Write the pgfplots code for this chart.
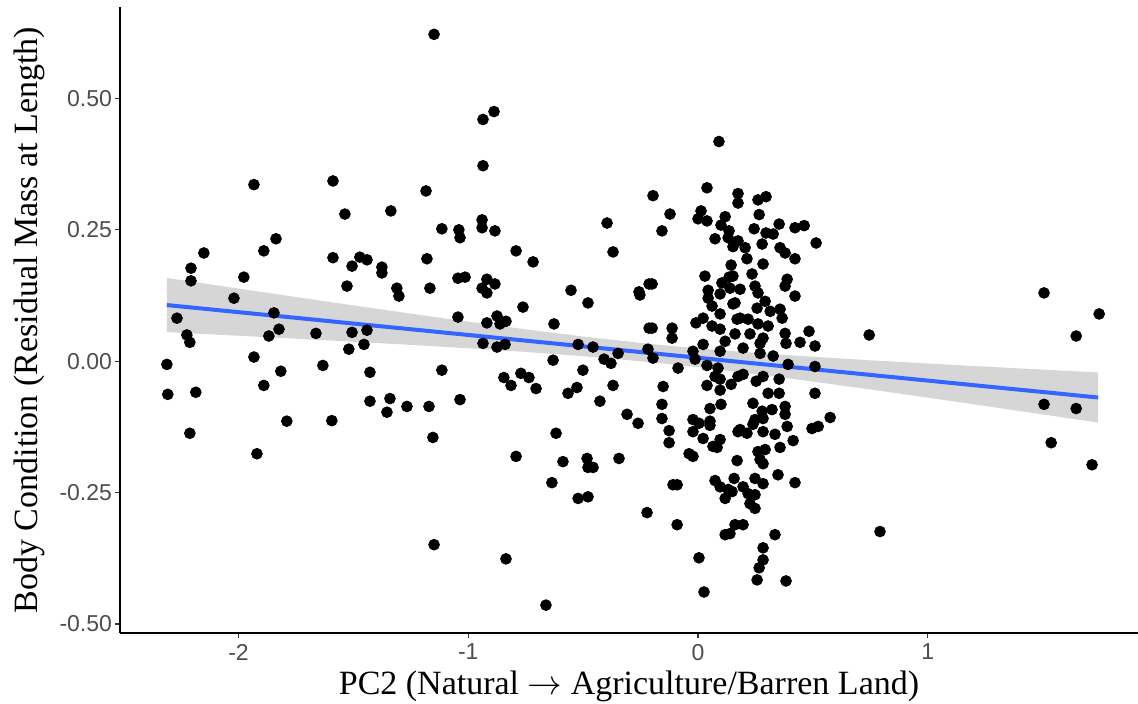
\documentclass[border=0pt]{standalone}
\usepackage{fontspec}
\setmainfont{Liberation Serif}
\newfontfamily\ticksans{Liberation Sans}
\usepackage{pgfplots}
\usepgfplotslibrary{fillbetween}
\pgfplotsset{compat=1.18}
\definecolor{tickgray}{RGB}{77,77,77}
\definecolor{tickline}{RGB}{51,51,51}
\definecolor{fitblue}{RGB}{51,102,255}
\definecolor{bandgray}{RGB}{153,153,153}

% PC2 vs body condition, one row per fish
\pgfplotstableread{
x y
-1.933 0.336
-1.589 0.343
-1.537 0.280
-1.337 0.286
-1.837 0.233
-1.890 0.210
-2.151 0.206
-2.207 0.177
-2.207 0.153
-1.977 0.160
-1.589 0.197
-1.472 0.198
-1.441 0.193
-1.506 0.181
-1.376 0.179
-1.376 0.168
-1.528 0.143
-1.311 0.139
-1.302 0.124
-2.020 0.120
-2.268 0.082
-1.846 0.092
-1.824 0.061
-1.868 0.048
-1.663 0.053
-1.506 0.055
-1.441 0.059
-2.225 0.050
-2.212 0.036
-1.454 0.032
-1.520 0.023
-1.933 0.008
-2.312 -0.006
-1.816 -0.019
-1.633 -0.008
-1.428 -0.021
-1.890 -0.046
-2.308 -0.063
-2.186 -0.059
-1.428 -0.076
-1.341 -0.071
-1.354 -0.097
-1.267 -0.086
-1.790 -0.114
-1.594 -0.113
-2.212 -0.137
-1.920 -0.176
-1.149 0.622
-0.888 0.475
-0.936 0.460
-0.936 0.372
-1.184 0.324
-1.115 0.252
-1.041 0.250
-1.036 0.235
-0.940 0.269
-0.940 0.254
-0.884 0.248
-0.396 0.263
-0.370 0.208
-0.792 0.210
-0.718 0.189
-1.180 0.195
-1.167 0.139
-1.045 0.158
-1.014 0.160
-0.919 0.156
-0.940 0.139
-0.919 0.130
-0.884 0.147
-0.553 0.135
-0.479 0.111
-0.257 0.132
-0.253 0.126
-0.213 0.147
-0.762 0.103
-1.045 0.084
-0.919 0.073
-0.875 0.086
-0.862 0.071
-0.836 0.076
-0.627 0.071
-0.936 0.034
-0.875 0.027
-0.840 0.032
-0.522 0.032
-0.457 0.027
-0.213 0.063
-0.218 0.023
-0.348 0.015
-0.631 0.002
-1.115 -0.017
-0.845 -0.031
-0.814 -0.046
-0.771 -0.023
-0.736 -0.031
-0.705 -0.052
-0.501 -0.017
-0.409 0.004
-0.379 -0.004
-0.527 -0.050
-0.566 -0.061
-0.370 -0.046
-0.427 -0.076
-1.171 -0.086
-1.036 -0.073
-0.309 -0.101
-0.261 -0.118
-1.154 -0.145
-0.618 -0.137
-0.792 -0.181
-0.588 -0.191
-0.483 -0.185
-0.479 -0.202
-0.457 -0.202
-0.344 -0.185
-0.636 -0.231
-0.522 -0.261
-0.479 -0.258
-0.222 -0.288
-1.149 -0.349
-0.836 -0.376
-0.662 -0.464
0.091 0.418
0.039 0.330
-0.196 0.315
-0.122 0.280
0.174 0.319
0.174 0.301
0.013 0.286
0.000 0.271
0.039 0.267
0.118 0.275
0.100 0.259
-0.157 0.248
0.135 0.248
0.131 0.235
0.074 0.233
0.152 0.218
0.174 0.229
0.144 0.183
0.030 0.162
0.135 0.160
-0.200 0.147
0.104 0.149
0.044 0.135
0.044 0.120
0.096 0.128
0.139 0.139
0.061 0.105
0.152 0.109
0.096 0.090
0.022 0.082
-0.009 0.073
0.061 0.067
0.096 0.061
0.170 0.080
-0.200 0.063
-0.113 0.063
-0.113 0.044
0.022 0.032
0.118 0.038
0.096 0.019
-0.196 0.006
-0.022 0.019
-0.013 0.004
0.039 -0.008
0.087 -0.013
-0.087 -0.013
-0.152 -0.048
0.039 -0.046
0.074 -0.029
0.096 -0.034
0.096 -0.055
0.144 -0.044
0.174 -0.029
-0.157 -0.082
0.052 -0.090
0.100 -0.082
-0.157 -0.109
-0.126 -0.132
-0.126 -0.155
-0.022 -0.111
0.004 -0.118
-0.022 -0.134
0.052 -0.114
0.052 -0.122
0.022 -0.147
0.096 -0.149
0.065 -0.162
0.083 -0.164
0.174 -0.134
-0.039 -0.176
-0.022 -0.181
0.170 -0.189
-0.109 -0.235
-0.091 -0.235
0.074 -0.227
0.096 -0.239
0.131 -0.244
0.118 -0.261
0.157 -0.223
-0.091 -0.311
0.161 -0.311
0.118 -0.330
0.139 -0.328
0.004 -0.374
0.026 -0.439
0.261 0.307
0.296 0.313
0.266 0.279
0.353 0.261
0.422 0.254
0.462 0.258
0.514 0.225
0.244 0.252
0.296 0.244
0.327 0.242
0.205 0.216
0.279 0.223
0.357 0.216
0.379 0.206
0.422 0.195
0.213 0.195
0.283 0.185
0.235 0.166
0.388 0.156
0.379 0.143
0.422 0.124
0.248 0.143
0.183 0.137
0.261 0.130
0.161 0.111
0.292 0.114
0.257 0.101
0.357 0.099
0.366 0.082
0.314 0.095
0.183 0.082
0.218 0.080
0.261 0.071
0.305 0.067
0.226 0.052
0.161 0.052
0.283 0.044
0.379 0.053
0.483 0.057
0.383 0.034
0.444 0.036
0.509 0.029
0.196 0.025
0.270 0.034
0.270 0.015
0.327 0.010
0.392 -0.006
0.509 -0.010
0.152 0.162
0.196 -0.025
0.253 -0.038
0.283 -0.029
0.353 -0.034
0.305 -0.061
0.353 -0.061
0.509 -0.061
0.239 -0.080
0.379 -0.086
0.379 -0.101
0.279 -0.095
0.322 -0.092
0.248 -0.111
0.283 -0.109
0.239 -0.120
0.183 -0.130
0.213 -0.137
0.283 -0.134
0.335 -0.139
0.388 -0.124
0.496 -0.128
0.523 -0.124
0.575 -0.107
0.414 -0.151
0.357 -0.164
0.261 -0.172
0.292 -0.168
0.270 -0.187
0.283 -0.195
0.348 -0.216
0.422 -0.231
0.248 -0.223
0.283 -0.233
0.196 -0.239
0.218 -0.252
0.248 -0.254
0.226 -0.271
0.248 -0.280
0.148 -0.248
0.196 -0.311
0.335 -0.330
0.283 -0.355
0.283 -0.378
0.266 -0.393
0.257 -0.416
0.383 -0.418
0.745 0.050
0.792 -0.324
1.506 0.130
1.746 0.090
1.646 0.048
1.506 -0.082
1.646 -0.090
1.537 -0.155
1.715 -0.197
}\fishdata

% fitted line with its 95% band
\pgfplotstableread{
x fit lo hi
-2.312 0.1069 0.0554 0.1585
-2.00 0.0934 0.0485 0.1383
-1.75 0.0826 0.0429 0.1222
-1.50 0.0717 0.0371 0.1063
-1.25 0.0609 0.0311 0.0906
-1.00 0.0500 0.0247 0.0753
-0.75 0.0392 0.0177 0.0606
-0.50 0.0283 0.0096 0.0470
-0.20 0.0153 -0.0020 0.0326
0.00 0.0066 -0.0113 0.0245
0.25 -0.0043 -0.0244 0.0159
0.50 -0.0151 -0.0387 0.0085
0.75 -0.0260 -0.0537 0.0018
1.00 -0.0368 -0.0693 -0.0043
1.25 -0.0477 -0.0851 -0.0102
1.50 -0.0585 -0.1011 -0.0159
1.741 -0.0690 -0.1167 -0.0213
}\fitdata

\begin{document}
\begin{tikzpicture}
  \begin{axis}[
    name=ax,
    scale only axis,
    width=509pt,
    height=313pt,
    xmin=-2.516, xmax=1.915,
    ymin=-0.517, ymax=0.674,
    axis lines=left,
    axis line style={-, black, line width=0.6pt},
    tick align=outside,
    major tick length=2.5pt,
    tick style={tickline, line width=0.6pt},
    xtick={-2,-1,0,1},
    xticklabels={-2,-1,0,1},
    ytick={-0.5,-0.25,0,0.25,0.5},
    yticklabels={-0.50,-0.25,0.00,0.25,0.50},
    tick label style={font=\ticksans\fontsize{11.5}{13}\selectfont, text=tickgray},
    yticklabel style={xshift=2pt},
    xticklabel style={yshift=0.5pt},
    xlabel={PC2 (Natural $\rightarrow$ Agriculture/Barren Land)},
    ylabel={Body Condition (Residual Mass at Length)},
    label style={font=\fontsize{17}{20}\selectfont, text=black},
    xlabel style={at={(axis description cs:0.5,0)}, anchor=base, yshift=-31pt, inner sep=0pt},
    ylabel style={at={(axis description cs:0,0.5)}, anchor=center, yshift=45.5pt, inner sep=0pt},
  ]
    \addplot[only marks, mark=*, mark size=2.7pt, black, mark options={draw=none, fill=black}]
      table[x=x, y=y] {\fishdata};

    \addplot[name path=hi, draw=none, forget plot] table[x=x, y=hi] {\fitdata};
    \addplot[name path=lo, draw=none, forget plot] table[x=x, y=lo] {\fitdata};
    \addplot[fill=bandgray, fill opacity=0.4, draw=none] fill between[of=hi and lo];

    \addplot[fitblue, line width=2pt] table[x=x, y=fit] {\fitdata};
  \end{axis}
  \pgfresetboundingbox
  \path[use as bounding box] ([xshift=-60pt, yshift=-35.5pt]ax.south west) rectangle ([yshift=3.5pt]ax.north east);
\end{tikzpicture}
\end{document}
